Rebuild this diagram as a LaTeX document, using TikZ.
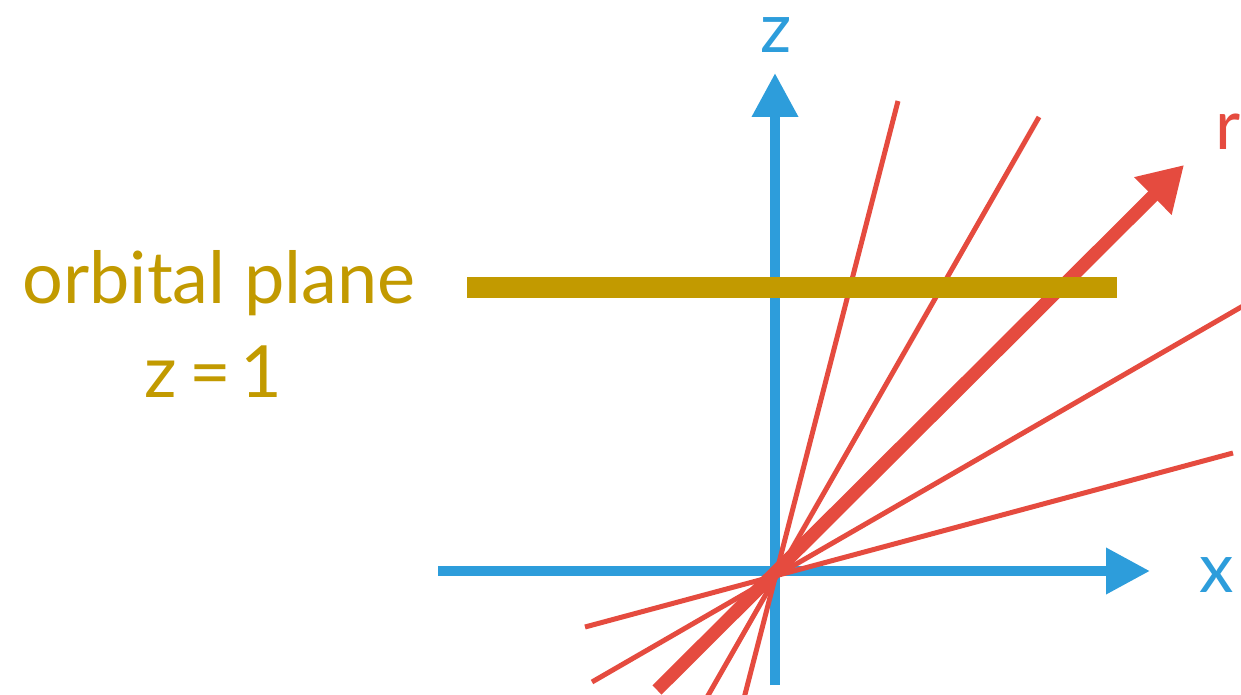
\documentclass[tikz,border=0pt]{standalone}
\usepackage{fontspec}
\setmainfont{Lato}
\usetikzlibrary{arrows.meta}
\definecolor{axisblue}{RGB}{45,157,219}
\definecolor{rayred}{RGB}{229,75,63}
\definecolor{planegold}{RGB}{194,154,0}
\tikzset{
  axisline/.style={draw=axisblue, line width=10pt, -{Triangle[length=44pt,width=44pt]}},
  ray/.style={draw=rayred, line width=5pt},
  mainray/.style={draw=rayred, line width=13pt, -{Triangle[length=44pt,width=50pt]}},
  planebar/.style={draw=planegold, line width=21pt},
  bigtext/.style={font=\fontsize{69}{80}\selectfont, inner sep=0pt, anchor=base},
}
\begin{document}
\begin{tikzpicture}[x=1pt,y=-1pt]
\useasboundingbox (0,0) rectangle (1241,695);
\clip (0,0) rectangle (1241,695);
% coordinates
\coordinate (zlo) at (775,685);
\coordinate (ztip) at (775,73);
\coordinate (xlo) at (438,571);
\coordinate (xtip) at (1150,571);
\coordinate (r1a) at (898,101);
\coordinate (r1b) at (742,706);
\coordinate (r2a) at (1039,117);
\coordinate (r2b) at (702,706);
\coordinate (r4a) at (592,682);
\coordinate (r4b) at (1262,295);
\coordinate (r5a) at (585,627);
\coordinate (r5b) at (1233,453);
\coordinate (rlo) at (657,690);
\coordinate (rtip) at (1184,165);
\coordinate (pl) at (467,287.5);
\coordinate (pr) at (1117,287.5);
% axes
\draw[axisline] (zlo) -- (ztip);
\draw[axisline] (xlo) -- (xtip);
% rays
\draw[ray] (r1a) -- (r1b);
\draw[ray] (r2a) -- (r2b);
\draw[ray] (r4a) -- (r4b);
\draw[ray] (r5a) -- (r5b);
\draw[mainray] (rlo) -- (rtip);
% orbital plane
\draw[planebar] (pl) -- (pr);
% labels
\node[bigtext, text=axisblue] (zlab) at (776,53) {z};
\node[bigtext, text=axisblue] (xlab) at (1217,592) {x};
\node[bigtext, text=rayred, anchor=base west] (rlab) at (1215,150) {r};
\node[bigtext, text=planegold, font=\fontsize{72}{80}\selectfont] (orb) at (219,303) {orbital plane};
\node[bigtext, text=planegold, font=\fontsize{72}{80}\selectfont] (zeq) at (213,397) {z\hspace{0.18em}=\hspace{0.12em}1};
\end{tikzpicture}
\end{document}
